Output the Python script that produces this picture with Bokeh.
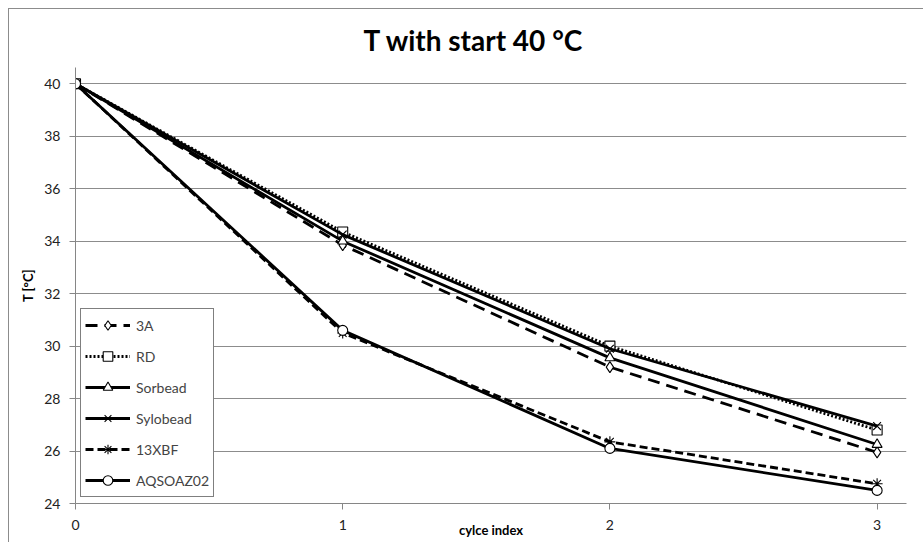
from bokeh.plotting import figure
from bokeh.models import (ColumnDataSource, Legend, LegendItem, Range1d,
                          FixedTicker, InlineStyleSheet)
from bokeh.embed import file_html
from bokeh.resources import INLINE

# cycle index and temperature per sorbent
cycles = [0, 1, 2, 3]
t_3a = [40.0, 33.85, 29.2, 25.95]
t_rd = [40.0, 34.35, 30.0, 26.8]
t_sorbead = [40.0, 34.0, 29.55, 26.25]
t_sylobead = [40.0, 34.25, 29.9, 26.95]
t_13xbf = [40.0, 30.5, 26.35, 24.75]
t_aqsoa = [40.0, 30.6, 26.1, 24.5]

names = ["3A", "RD", "Sorbead", "Sylobead", "13XBF", "AQSOAZ02"]
y_ticks = [24, 26, 28, 30, 32, 34, 36, 38, 40]
x_ticks = [0, 1, 2, 3]

FONT = "Lato"

p = figure(width=923, height=542, output_backend="svg", toolbar_location=None,
           x_range=Range1d(0, 3.11), y_range=Range1d(24, 40.62),
           min_border_left=75, min_border_right=17,
           min_border_top=67, min_border_bottom=39,
           title="T with start 40 °C")
p.background_fill_color = "white"
p.border_fill_color = "white"
p.outline_line_color = None

# title is centred over the whole chart area, not just the plot frame
p.title.align = "left"
p.title.offset = 288
p.title.text_font = FONT
p.title.text_font_size = "28px"
p.title.text_font_style = "bold"
p.title.text_color = "black"
p.title.standoff = 21

# thin grey border around the chart area (left and top edges are in view)
p.stylesheets = [InlineStyleSheet(css="""
:host::after {
  content: "";
  position: absolute;
  left: 8px; top: 8px;
  width: 915px; height: 534px;
  border-left: 1px solid #8c8c8c;
  border-top: 1px solid #8c8c8c;
  box-sizing: border-box;
  pointer-events: none;
}
""")]

# axes
p.xaxis.ticker = FixedTicker(ticks=x_ticks)
p.yaxis.ticker = FixedTicker(ticks=y_ticks)
for ax in (p.xaxis[0], p.yaxis[0]):
    ax.axis_line_color = "#868686"
    ax.major_tick_line_color = "#868686"
    ax.major_tick_in = 0
    ax.major_tick_out = 6
    ax.minor_tick_line_color = None
    ax.major_label_text_font = FONT
    ax.major_label_text_font_size = "14px"
    ax.major_label_text_color = "#222222"
    ax.axis_label_text_font = FONT
    ax.axis_label_text_font_size = "13px"
    ax.axis_label_text_font_style = "bold"
    ax.axis_label_text_color = "black"
p.yaxis.major_label_standoff = 9
p.xaxis.major_label_standoff = 10
p.xaxis.axis_label = "cylce index"
p.xaxis.axis_label_standoff = -11
p.yaxis.axis_label = "T [°C]"
p.yaxis.axis_label_standoff = 5
p.xgrid.grid_line_color = None
p.ygrid.grid_line_color = "#8c8c8c"
p.ygrid.grid_line_width = 1

styles = [
    dict(dash="12 7", marker="diamond", size=11),
    dict(dash="2 2", marker="square", size=10),
    dict(dash="solid", marker="triangle", size=10),
    dict(dash="solid", marker="x", size=11),
    dict(dash="8 4", marker="asterisk", size=11),
    dict(dash="solid", marker="circle", size=10),
]
series = [t_3a, t_rd, t_sorbead, t_sylobead, t_13xbf, t_aqsoa]

items = []
for name, ys, st in zip(names, series, styles):
    src = ColumnDataSource(data=dict(x=cycles, y=ys))
    ln = p.line("x", "y", source=src, line_color="black", line_width=2.8,
                line_dash=st["dash"])
    mk = p.scatter("x", "y", source=src, marker=st["marker"], size=st["size"],
                   line_color="black", line_width=1.1, fill_color="white")
    items.append(LegendItem(label=name, renderers=[ln, mk]))

legend = Legend(items=items, location=(5, 6), border_line_color="black",
                border_line_width=1, background_fill_color="white",
                background_fill_alpha=1.0, label_text_font=FONT,
                label_text_font_size="14px", glyph_width=45, glyph_height=24,
                label_height=24, spacing=7, padding=4, margin=0,
                label_standoff=6)
p.add_layout(legend, "center")

open("out.html", "w").write(file_html(p, INLINE))
